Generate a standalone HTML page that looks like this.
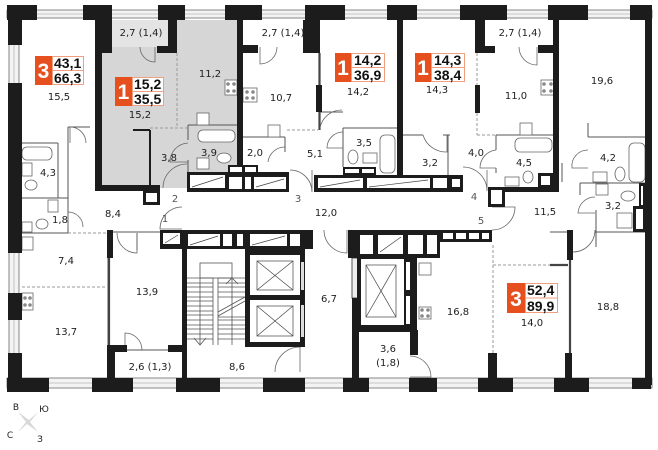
<!DOCTYPE html>
<html><head><meta charset="utf-8">
<style>
html,body{margin:0;padding:0;background:#fff;}
svg{display:block;}
.l{font-family:"DejaVu Sans","Liberation Sans",sans-serif;font-size:10px;fill:#1e1e1e;text-anchor:middle;}
.n{font-family:"DejaVu Sans","Liberation Sans",sans-serif;font-size:10px;fill:#555;text-anchor:middle;}
.bn{font-family:"Liberation Sans","DejaVu Sans",sans-serif;font-size:14px;font-weight:bold;fill:#111;}
.bd{font-family:"Liberation Sans","DejaVu Sans",sans-serif;font-size:21px;font-weight:bold;fill:#fff;text-anchor:middle;}
</style></head><body>
<svg width="658" height="450" viewBox="0 0 658 450" xmlns="http://www.w3.org/2000/svg">
<rect width="658" height="450" fill="#fff"/>

<!-- grey apartment -->
<path d="M102,20H237V172H187V188H102Z" fill="#d6d6d6"/>
<rect x="112" y="20" width="56" height="27" fill="#e4e4e4"/>

<!-- window bands -->
<g fill="#f3f3f3" stroke="#6a6a6a" stroke-width="0.8">
<rect x="7" y="10" width="645" height="8"/>
<rect x="9" y="20" width="10" height="358"/>
<rect x="7" y="378" width="645" height="10"/>
</g>
<g stroke="#b5b5b5" stroke-width="0.8">
<line x1="7" y1="14" x2="652" y2="14"/>
<line x1="14" y1="20" x2="14" y2="378"/>
<line x1="7" y1="383" x2="652" y2="383"/>
</g>

<!-- thin partitions -->
<g stroke="#555" stroke-width="1" fill="none">
<!-- apt A -->
<line x1="22" y1="143" x2="58" y2="143"/>
<line x1="58" y1="143" x2="58" y2="198"/>
<line x1="22" y1="198" x2="68" y2="198"/>
<line x1="68" y1="127" x2="68" y2="233"/>
<line x1="68" y1="127" x2="90" y2="127"/>
<line x1="22" y1="233" x2="68" y2="233"/>
<line x1="137" y1="233" x2="137" y2="250"/>
<line x1="113" y1="232" x2="182" y2="232"/>
<line x1="108" y1="258" x2="108" y2="345"/>
<line x1="127" y1="350" x2="168" y2="350"/>
<!-- grey apt -->
<line x1="188" y1="125" x2="237" y2="125"/>
<line x1="188" y1="125" x2="188" y2="140"/>
<line x1="188" y1="160" x2="188" y2="172"/>
<!-- apt 36.9 -->
<line x1="319" y1="53" x2="319" y2="130"/>
<line x1="243" y1="137" x2="285" y2="137"/>
<line x1="285" y1="137" x2="285" y2="152"/>
<line x1="343" y1="128" x2="397" y2="128"/>
<line x1="343" y1="128" x2="343" y2="167"/>
<line x1="320" y1="112" x2="343" y2="112"/>
<!-- apt 38.4 -->
<line x1="402" y1="135" x2="423" y2="135"/>
<line x1="448" y1="135" x2="448" y2="175"/>
<line x1="443" y1="135" x2="450" y2="135"/>
<line x1="496" y1="135" x2="553" y2="135"/>
<line x1="496" y1="135" x2="496" y2="150"/>
<line x1="496" y1="168" x2="496" y2="173"/>
<!-- right apt -->
<line x1="588" y1="123" x2="588" y2="137"/>
<line x1="588" y1="137" x2="645" y2="137"/>
<line x1="580" y1="183" x2="645" y2="183"/>
<line x1="562" y1="163" x2="562" y2="182"/>
<line x1="580" y1="183" x2="580" y2="195"/>
<line x1="596" y1="210" x2="596" y2="247"/>
<line x1="595" y1="232" x2="645" y2="232"/>
<line x1="550" y1="232" x2="567" y2="232"/>
<rect x="352" y="258" width="7" height="40" fill="#eee"/>
</g>
<g stroke="#444" stroke-width="2.2">
<line x1="570" y1="260" x2="570" y2="353"/>
<line x1="550" y1="265" x2="568" y2="265"/>
<line x1="109" y1="258" x2="109" y2="345"/>
<line x1="319.5" y1="53" x2="319.5" y2="85"/>
<line x1="319.5" y1="112" x2="319.5" y2="130"/>
</g>
<g stroke="#1c1c1c" stroke-width="2">
<line x1="133" y1="130" x2="150" y2="130"/>
<line x1="150" y1="130" x2="150" y2="187"/>
</g>
<!-- dashed -->
<g stroke="#9a9a9a" stroke-width="1" stroke-dasharray="3,2" fill="none">
<line x1="68" y1="233" x2="107" y2="233"/>
<line x1="22" y1="287" x2="107" y2="287"/>
<line x1="177" y1="53" x2="177" y2="128"/>
<line x1="150" y1="128" x2="190" y2="128"/>
<line x1="287" y1="130" x2="318" y2="130"/>
<line x1="477" y1="53" x2="477" y2="85"/>
<line x1="477" y1="113" x2="477" y2="135"/>
<line x1="477" y1="135" x2="496" y2="135"/>
<line x1="493" y1="245" x2="493" y2="353"/>
<line x1="493" y1="265" x2="550" y2="265"/>
</g>

<!-- doors -->
<g stroke="#666" stroke-width="0.8" fill="none">
<path d="M155,47 V62 A15,15 0 0 1 140,47"/>
<path d="M260,47 V64 A17,17 0 0 0 277,47"/>
<path d="M537,47 V65 A18,18 0 0 1 519,47"/>
<path d="M70,143 V127 A16,16 0 0 1 86,143"/>
<path d="M68,227 V212 A15,15 0 0 1 83,227"/>
<path d="M137,233 V253 A20,20 0 0 1 117,233"/>
<path d="M182,229 H160 A22,22 0 0 1 182,207"/>
<path d="M125,350 V333 A17,17 0 0 1 142,350"/>
<path d="M300,372 V347 A25,25 0 0 0 275,372"/>
<path d="M347,230 V253 A23,23 0 0 1 324,230"/>
<path d="M410,377 H431 A21,21 0 0 0 410,356"/>
<path d="M163,188 A24,24 0 0 1 187,164"/>
<path d="M290,170 A22,22 0 0 1 312,192 M312,192 V170"/>
<path d="M463,167 A24,24 0 0 1 487,191 M487,191 V170"/>
<path d="M492,207 H515 A23,23 0 0 1 492,230"/>
<path d="M343,132 A16,16 0 0 0 327,148 H343"/>
<path d="M320,128 A22,22 0 0 1 342,110"/>
<path d="M285,147 A17,17 0 0 0 268,162"/>
<path d="M423,135 A24,24 0 0 0 447,152 V135"/>
<path d="M496,150 A18,18 0 0 0 480,168 H496"/>
<path d="M588,150 A16,16 0 0 0 572,168 H588"/>
<path d="M595,197 A17,17 0 0 0 578,213 H595"/>
<path d="M573,252 A22,22 0 0 0 595,230"/>
<path d="M188,143 A19,19 0 0 0 170,162 H188"/>
</g>

<!-- fixtures -->
<g stroke="#666" stroke-width="0.8" fill="#fff">
<rect x="22" y="147" width="30" height="13" rx="5"/>
<ellipse cx="31" cy="185" rx="6" ry="5"/>
<rect x="22" y="163" width="10" height="13"/>
<rect x="48" y="200" width="10" height="12"/>
<ellipse cx="42" cy="224" rx="6" ry="5"/>
<rect x="22" y="222" width="10" height="10"/>
<rect x="22" y="237" width="11" height="13"/>
<rect x="22" y="293" width="11" height="17"/>
<rect x="198" y="130" width="37" height="12" rx="5"/>
<rect x="197" y="113" width="12" height="12"/>
<ellipse cx="224" cy="158" rx="7" ry="5"/>
<rect x="197" y="158" width="12" height="11"/>
<rect x="225" y="80" width="12" height="15"/>
<rect x="243" y="88" width="14" height="14"/>
<rect x="268" y="125" width="12" height="12"/>
<rect x="380" y="135" width="15" height="38" rx="5"/>
<ellipse cx="353" cy="157" rx="5" ry="7"/>
<rect x="363" y="153" width="14" height="10"/>
<rect x="515" y="138" width="37" height="14" rx="5"/>
<rect x="520" y="123" width="12" height="12"/>
<ellipse cx="528" cy="177" rx="5" ry="6"/>
<rect x="505" y="177" width="14" height="9"/>
<rect x="541" y="80" width="13" height="15"/>
<rect x="629" y="143" width="16" height="39" rx="5"/>
<ellipse cx="620" cy="174" rx="5" ry="7"/>
<rect x="593" y="172" width="14" height="10"/>
<rect x="596" y="184" width="12" height="11"/>
<ellipse cx="628" cy="196" rx="7" ry="5"/>
<rect x="617" y="213" width="15" height="15"/>
<rect x="419" y="263" width="12" height="12"/>
<rect x="419" y="307" width="12" height="12"/>
</g>
<g fill="#888">
<circle cx="228" cy="84" r="1.8"/><circle cx="234" cy="84" r="1.8"/><circle cx="228" cy="91" r="1.8"/><circle cx="234" cy="91" r="1.8"/>
<circle cx="247" cy="92" r="1.8"/><circle cx="253" cy="92" r="1.8"/><circle cx="247" cy="98" r="1.8"/><circle cx="253" cy="98" r="1.8"/>
<circle cx="544" cy="84" r="1.8"/><circle cx="551" cy="84" r="1.8"/><circle cx="544" cy="91" r="1.8"/><circle cx="551" cy="91" r="1.8"/>
<circle cx="25" cy="298" r="1.8"/><circle cx="30" cy="298" r="1.8"/><circle cx="25" cy="305" r="1.8"/><circle cx="30" cy="305" r="1.8"/>
<circle cx="422" cy="310" r="1.8"/><circle cx="428" cy="310" r="1.8"/><circle cx="422" cy="316" r="1.8"/><circle cx="428" cy="316" r="1.8"/>
</g>

<!-- stair -->
<g stroke="#555" stroke-width="0.8" fill="none">
<rect x="200" y="263" width="32" height="15"/>
<line x1="213" y1="278" x2="213" y2="345"/>
<line x1="218" y1="278" x2="218" y2="345"/>
<path d="M187,278H213 M187,283H213 M187,287H213 M187,292H213 M187,297H213 M187,301H213 M187,306H213 M187,311H213 M187,315H213 M187,320H213 M187,325H213 M187,329H213 M187,334H213 M187,339H213"/>
<path d="M218,278H245 M218,283H245 M218,287H245 M218,292H245 M218,297H245 M218,317H245 M218,320H245 M218,325H245 M218,329H245 M218,334H245 M218,339H245"/>
<path d="M218,312 L245,297 M218,316 L245,301"/>
<path d="M194,338 L200,345 L206,338"/>
<path d="M226,284 L232,278 L238,284"/>
<line x1="232" y1="278" x2="232" y2="345"/>
<line x1="200" y1="278" x2="200" y2="345"/>
</g>

<!-- walls -->
<g fill="#1c1c1c">
<!-- top pillars -->
<rect x="7" y="5" width="30" height="15"/>
<rect x="83" y="5" width="29" height="15"/>
<rect x="158" y="5" width="27" height="15"/>
<rect x="225" y="5" width="37" height="15"/>
<rect x="305" y="5" width="40" height="15"/>
<rect x="387" y="5" width="30" height="15"/>
<rect x="460" y="5" width="47" height="15"/>
<rect x="548" y="5" width="40" height="15"/>
<rect x="630" y="5" width="22" height="15"/>
<!-- left -->
<rect x="8" y="5" width="14" height="40"/>
<rect x="8" y="83" width="14" height="170"/>
<rect x="8" y="293" width="14" height="27"/>
<rect x="8" y="353" width="14" height="39"/>
<!-- bottom -->
<rect x="7" y="378" width="42" height="14"/>
<rect x="92" y="378" width="41" height="14"/>
<rect x="176" y="378" width="44" height="14"/>
<rect x="263" y="378" width="42" height="14"/>
<rect x="343" y="378" width="26" height="14"/>
<rect x="409" y="378" width="28" height="14"/>
<rect x="478" y="378" width="35" height="14"/>
<rect x="554" y="378" width="35" height="14"/>
<rect x="632" y="378" width="19" height="11"/>
<!-- right -->
<rect x="645" y="5" width="7" height="380"/>
<!-- interior -->
<rect x="95" y="20" width="7" height="171"/>
<rect x="95" y="185" width="65" height="6"/>
<rect x="237" y="20" width="6" height="152"/>
<rect x="397" y="20" width="6" height="155"/>
<rect x="553" y="20" width="6" height="172"/>
<rect x="488" y="187" width="71" height="5"/>
<!-- balcony stubs -->
<rect x="102" y="20" width="10" height="33"/>
<rect x="157" y="46" width="20" height="7"/>
<rect x="168" y="20" width="9" height="33"/>
<rect x="243" y="45" width="15" height="8"/>
<rect x="303" y="20" width="17" height="33"/>
<rect x="475" y="20" width="10" height="33"/>
<rect x="475" y="46" width="20" height="7"/>
<rect x="538" y="45" width="15" height="8"/>
<rect x="316" y="85" width="6" height="27"/>
<rect x="475" y="85" width="5" height="28"/>
<!-- apt A -->
<rect x="107" y="230" width="6" height="28"/>
<rect x="107" y="345" width="8" height="35"/>
<rect x="107" y="345" width="20" height="7"/>
<rect x="168" y="345" width="15" height="7"/>
<rect x="182" y="230" width="5" height="150"/>
<!-- shaft rows -->
<rect x="187" y="172" width="102" height="20"/>
<rect x="228" y="165" width="30" height="9"/>
<rect x="143" y="191" width="17" height="14"/>
<rect x="314" y="175" width="149" height="17"/>
<rect x="343" y="167" width="33" height="8"/>
<rect x="488" y="187" width="17" height="20"/>
<rect x="538" y="173" width="15" height="14"/>
<rect x="160" y="230" width="153" height="19"/>
<!-- lift core left -->
<rect x="245" y="249" width="60" height="98"/>
<!-- right core -->
<rect x="348" y="230" width="92" height="28"/>
<rect x="440" y="230" width="52" height="12"/>
<rect x="352" y="298" width="7" height="82"/>
<rect x="357" y="255" width="56" height="77"/>
<rect x="410" y="330" width="8" height="25"/>
<rect x="413" y="258" width="4" height="74"/>
<!-- right apt -->
<rect x="488" y="353" width="9" height="25"/>
<rect x="567" y="230" width="6" height="30"/>
<rect x="565" y="353" width="7" height="25"/>
<rect x="633" y="206" width="12" height="26"/>
<rect x="639" y="183" width="6" height="25"/>
</g>

<!-- white insides of shafts -->
<g fill="#fff">
<rect x="190" y="175" width="35" height="13"/>
<rect x="229" y="177" width="13" height="12"/>
<rect x="245" y="177" width="6" height="12"/>
<rect x="254" y="177" width="32" height="12"/>
<rect x="230" y="167" width="12" height="5"/>
<rect x="245" y="167" width="11" height="5"/>
<rect x="146" y="193" width="11" height="9"/>
<rect x="318" y="178" width="45" height="10"/>
<rect x="367" y="178" width="63" height="10"/>
<rect x="433" y="178" width="14" height="10"/>
<rect x="452" y="179" width="8" height="8"/>
<rect x="345" y="169" width="14" height="4"/>
<rect x="362" y="169" width="12" height="4"/>
<rect x="491" y="190" width="11" height="14"/>
<rect x="541" y="176" width="9" height="9"/>
<rect x="163" y="233" width="17" height="11"/>
<rect x="188" y="234" width="32" height="12"/>
<rect x="223" y="234" width="9" height="12"/>
<rect x="237" y="234" width="6" height="12"/>
<rect x="250" y="234" width="37" height="12"/>
<rect x="290" y="234" width="10" height="12"/>
<rect x="250" y="255" width="50" height="40"/>
<rect x="250" y="300" width="50" height="42"/>
<rect x="360" y="235" width="13" height="19"/>
<rect x="378" y="235" width="25" height="19"/>
<rect x="408" y="235" width="15" height="19"/>
<rect x="427" y="235" width="10" height="19"/>
<rect x="443" y="233" width="10" height="6"/>
<rect x="456" y="233" width="10" height="6"/>
<rect x="469" y="233" width="10" height="6"/>
<rect x="482" y="233" width="7" height="6"/>
<rect x="361" y="259" width="43" height="66"/>
<rect x="406" y="262" width="4" height="28"/>
<rect x="406" y="296" width="4" height="28"/>
<rect x="636" y="209" width="7" height="20"/>
<rect x="641" y="186" width="2" height="19"/>
</g>
<g fill="#ddd">
<rect x="301" y="262" width="3" height="28"/>
<rect x="301" y="305" width="3" height="32"/>
</g>
<!-- diagonal marks in shafts -->
<g stroke="#444" stroke-width="0.7" fill="none">
<path d="M192,187 L223,177 M256,187 L284,179 M320,187 L360,180 M369,187 L428,180 M190,245 L218,236 M252,245 L285,236 M165,243 L178,235 M380,252 L401,237"/>
<rect x="257" y="261" width="36" height="29"/><path d="M257,261 L293,290 M293,261 L257,290"/>
<rect x="257" y="306" width="36" height="30"/><path d="M257,306 L293,336 M293,306 L257,336"/>
<rect x="366" y="265" width="30" height="52"/><path d="M366,265 L396,317 M396,265 L366,317"/>
</g>

<!-- badges -->
<g>
<rect x="35" y="56" width="17" height="29" fill="#e6501f"/>
<rect x="52.5" y="56.5" width="31" height="28" fill="#fff" stroke="#f0a080" stroke-width="1"/>
<line x1="52" y1="70.5" x2="84" y2="70.5" stroke="#f0a080"/>
<text class="bd" x="43.5" y="78">3</text>
<text class="bn" x="54" y="68">43,1</text>
<text class="bn" x="54" y="83">66,3</text>

<rect x="115" y="77" width="17" height="29" fill="#e6501f"/>
<rect x="132.5" y="77.5" width="31" height="28" fill="#fff" stroke="#f0a080" stroke-width="1"/>
<line x1="132" y1="91.5" x2="164" y2="91.5" stroke="#f0a080"/>
<text class="bd" x="123.5" y="99">1</text>
<text class="bn" x="134" y="89">15,2</text>
<text class="bn" x="134" y="104">35,5</text>

<rect x="335" y="53" width="16" height="29" fill="#e6501f"/>
<rect x="351.5" y="53.5" width="33" height="28" fill="#fff" stroke="#f0a080" stroke-width="1"/>
<line x1="351" y1="67.5" x2="385" y2="67.5" stroke="#f0a080"/>
<text class="bd" x="343" y="75">1</text>
<text class="bn" x="354" y="65">14,2</text>
<text class="bn" x="354" y="80">36,9</text>

<rect x="415" y="53" width="16" height="29" fill="#e6501f"/>
<rect x="431.5" y="53.5" width="33" height="28" fill="#fff" stroke="#f0a080" stroke-width="1"/>
<line x1="431" y1="67.5" x2="465" y2="67.5" stroke="#f0a080"/>
<text class="bd" x="423" y="75">1</text>
<text class="bn" x="434" y="65">14,3</text>
<text class="bn" x="434" y="80">38,4</text>

<rect x="507" y="283" width="18" height="30" fill="#e6501f"/>
<rect x="525.5" y="283.5" width="32" height="29" fill="#fff" stroke="#f0a080" stroke-width="1"/>
<line x1="525" y1="298" x2="558" y2="298" stroke="#f0a080"/>
<text class="bd" x="516" y="306">3</text>
<text class="bn" x="527" y="295">52,4</text>
<text class="bn" x="527" y="311">89,9</text>
</g>

<!-- labels -->
<g>
<text class="l" x="59" y="100">15,5</text>
<text class="l" x="48" y="176">4,3</text>
<text class="l" x="60" y="223">1,8</text>
<text class="l" x="113" y="217">8,4</text>
<text class="l" x="66" y="264">7,4</text>
<text class="l" x="147" y="295">13,9</text>
<text class="l" x="66" y="335">13,7</text>
<text class="l" x="150" y="370">2,6 (1,3)</text>
<text class="l" x="141" y="36">2,7 (1,4)</text>
<text class="l" x="210" y="77">11,2</text>
<text class="l" x="140" y="118">15,2</text>
<text class="l" x="169" y="161">3,8</text>
<text class="l" x="209" y="156">3,9</text>
<text class="l" x="255" y="156">2,0</text>
<text class="l" x="283" y="36">2,7 (1,4)</text>
<text class="l" x="281" y="101">10,7</text>
<text class="l" x="358" y="95">14,2</text>
<text class="l" x="315" y="157">5,1</text>
<text class="l" x="364" y="146">3,5</text>
<text class="l" x="430" y="166">3,2</text>
<text class="l" x="520" y="36">2,7 (1,4)</text>
<text class="l" x="437" y="93">14,3</text>
<text class="l" x="516" y="99">11,0</text>
<text class="l" x="476" y="156">4,0</text>
<text class="l" x="524" y="166">4,5</text>
<text class="l" x="602" y="84">19,6</text>
<text class="l" x="608" y="161">4,2</text>
<text class="l" x="613" y="209">3,2</text>
<text class="l" x="545" y="215">11,5</text>
<text class="l" x="326" y="216">12,0</text>
<text class="l" x="329" y="302">6,7</text>
<text class="l" x="458" y="315">16,8</text>
<text class="l" x="532" y="326">14,0</text>
<text class="l" x="608" y="310">18,8</text>
<text class="l" x="388" y="352">3,6</text>
<text class="l" x="388" y="366">(1,8)</text>
<text class="l" x="237" y="370">8,6</text>
<text class="n" x="165" y="222">1</text>
<text class="n" x="175" y="202">2</text>
<text class="n" x="298" y="202">3</text>
<text class="n" x="474" y="200">4</text>
<text class="n" x="481" y="224">5</text>
</g>

<!-- compass -->
<path d="M18,412 L29,420 L38,412 L30,422 L38,432 L27,424 L18,432 L26,422 Z" fill="#d8d8d8"/>
<g font-family="DejaVu Sans, sans-serif" font-size="9" fill="#222" text-anchor="middle">
<text x="16" y="410">В</text>
<text x="44" y="412">Ю</text>
<text x="10" y="438">С</text>
<text x="40" y="442">З</text>
</g>
</svg>
</body></html>
